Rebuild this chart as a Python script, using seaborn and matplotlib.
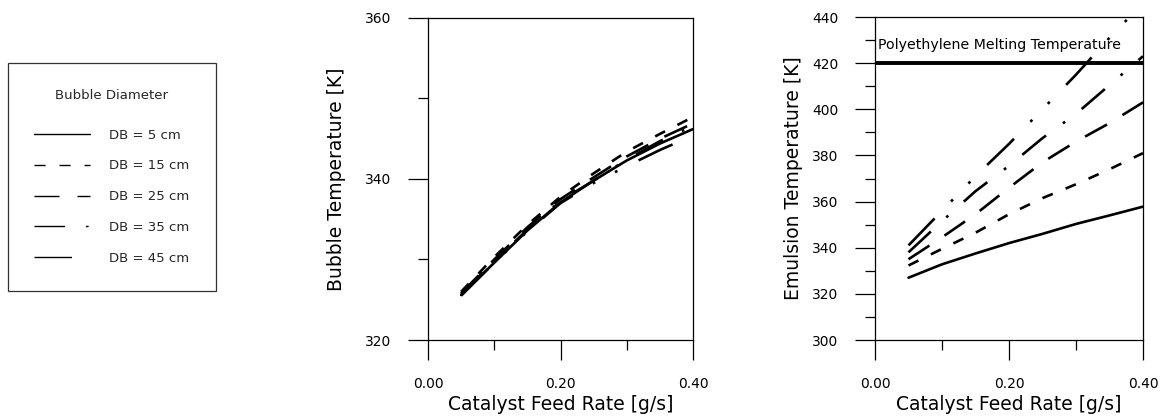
import numpy as np
import pandas as pd
import matplotlib
matplotlib.use("Agg")
import matplotlib.pyplot as plt
import seaborn as sns
from matplotlib.ticker import MultipleLocator
from matplotlib.lines import Line2D

sns.set_theme(style="white")
plt.rcParams['font.family'] = ['DejaVu Sans']
plt.rcParams['lines.scale_dashes'] = False

# ---------------- data ----------------
feed_rate = [0.05, 0.10, 0.15, 0.20, 0.25, 0.30, 0.35, 0.40]
diameters = ["DB = 5 cm", "DB = 15 cm", "DB = 25 cm", "DB = 35 cm", "DB = 45 cm"]

bubble_db5 = [325.6, 329.6, 333.6, 337.1, 339.8, 342.3, 344.4, 346.2]
bubble_db15 = [326.0, 330.3, 334.3, 337.8, 340.7, 343.4, 345.6, 347.7]
bubble_db25 = [325.8, 330.0, 334.0, 337.5, 340.2, 342.8, 345.0, 346.9]
bubble_db35 = [325.7, 329.8, 333.7, 337.3, 339.8, 342.4, 344.7, 346.6]
bubble_db45 = [325.5, 329.6, 333.5, 337.0, 339.5, 341.6, 343.6, 345.4]

emulsion_db5 = [327.0, 332.8, 337.5, 342.0, 346.0, 350.3, 354.0, 357.8]
emulsion_db15 = [332.3, 339.5, 346.5, 354.5, 361.5, 367.5, 374.0, 381.0]
emulsion_db25 = [335.0, 344.5, 354.5, 366.0, 377.0, 386.0, 394.0, 403.0]
emulsion_db35 = [338.0, 351.5, 364.5, 375.5, 387.5, 398.0, 410.5, 423.0]
emulsion_db45 = [341.0, 356.0, 371.0, 385.0, 400.0, 415.0, 431.0, 446.0]

melting_temp = 420
melting_label = "Polyethylene Melting Temperature"

bubble = [bubble_db5, bubble_db15, bubble_db25, bubble_db35, bubble_db45]
emulsion = [emulsion_db5, emulsion_db15, emulsion_db25, emulsion_db35, emulsion_db45]

rows = []
for name, b, e in zip(diameters, bubble, emulsion):
    for x, bv, ev in zip(feed_rate, b, e):
        rows.append({"feed": x, "DB": name, "bubble": bv, "emulsion": ev})
df = pd.DataFrame(rows)

dash_map = {
    "DB = 5 cm": "",
    "DB = 15 cm": (8, 10),
    "DB = 25 cm": (18, 13),
    "DB = 35 cm": (22, 15, 2, 15),
    "DB = 45 cm": (27, 17, 2, 16, 2, 17),
}
palette = {k: "black" for k in diameters}

fig = plt.figure(figsize=(11.65, 4.17), dpi=100)
W, H = 1165, 417


def axes_px(l, r, t, b):
    return fig.add_axes([l / W, 1 - b / H, (r - l) / W, (b - t) / H])


ax1 = axes_px(428, 693, 18, 340)
ax2 = axes_px(875, 1143, 17, 340)

for ax, col in [(ax1, "bubble"), (ax2, "emulsion")]:
    sns.lineplot(data=df, x="feed", y=col, hue="DB", style="DB",
                 palette=palette, dashes=dash_map, linewidth=1.9,
                 legend=False, ax=ax, sort=False)

ax2.axhline(melting_temp, color="black", linewidth=2.8)
ax2.text(0.005, 427.7, melting_label, fontsize=10.2, va="center", ha="left",
         color="black")

ax1.set_xlim(0, 0.4)
ax1.set_ylim(320, 360)
ax2.set_xlim(0, 0.4)
ax2.set_ylim(300, 440)

for ax in (ax1, ax2):
    ax.xaxis.set_major_locator(MultipleLocator(0.2))
    ax.xaxis.set_minor_locator(MultipleLocator(0.1))
    ax.yaxis.set_major_locator(MultipleLocator(20))
    ax.yaxis.set_minor_locator(MultipleLocator(10))
    ax.xaxis.set_major_formatter(plt.FuncFormatter(lambda v, p: f"{v:.2f}"))
    ax.yaxis.set_major_formatter(plt.FuncFormatter(lambda v, p: f"{v:.0f}"))
    ax.tick_params(axis="both", which="major", direction="out", length=14.5,
                   width=0.9, color="black", labelsize=10, labelcolor="black",
                   bottom=True, left=True)
    ax.tick_params(axis="both", which="minor", direction="out", length=7.2,
                   width=0.9, color="black", bottom=True, left=True)
    ax.tick_params(axis="x", which="major", pad=12)
    ax.tick_params(axis="y", which="major", pad=12)
    for s in ax.spines.values():
        s.set_visible(True)
        s.set_color("black")
        s.set_linewidth(0.9)
    ax.set_xlabel("Catalyst Feed Rate [g/s]", fontsize=13.5, color="black")
    ax.xaxis.set_label_coords(0.5, -0.17)

ax1.set_ylabel("Bubble Temperature [K]", fontsize=13.5, color="black")
ax2.set_ylabel("Emulsion Temperature [K]", fontsize=13.5, color="black")
ax1.yaxis.set_label_coords((346 - 428) / 265, 0.5)
ax2.yaxis.set_label_coords((803 - 875) / 268, 0.5)

# legend (figure level, left panel)
leg_handles = []
for name in diameters:
    d = dash_map[name]
    h = Line2D([0], [0], color="black", linewidth=1.0)
    if d:
        h.set_dashes(d)
    leg_handles.append(h)

fs = 9.5
lsp = 1.35
leg = fig.legend(leg_handles, diameters, title="Bubble Diameter",
                 loc="upper left", bbox_to_anchor=(8 / W, 1 - 63 / H),
                 fontsize=fs, title_fontsize=fs, frameon=True, fancybox=False,
                 edgecolor="black", handlelength=4.2, handletextpad=1.45,
                 labelspacing=lsp, borderpad=2.0, borderaxespad=0)
leg.get_frame().set_linewidth(0.9)
leg._legend_box.sep = lsp * fs + 6

fig.savefig("out.png", dpi=100, facecolor="white")
